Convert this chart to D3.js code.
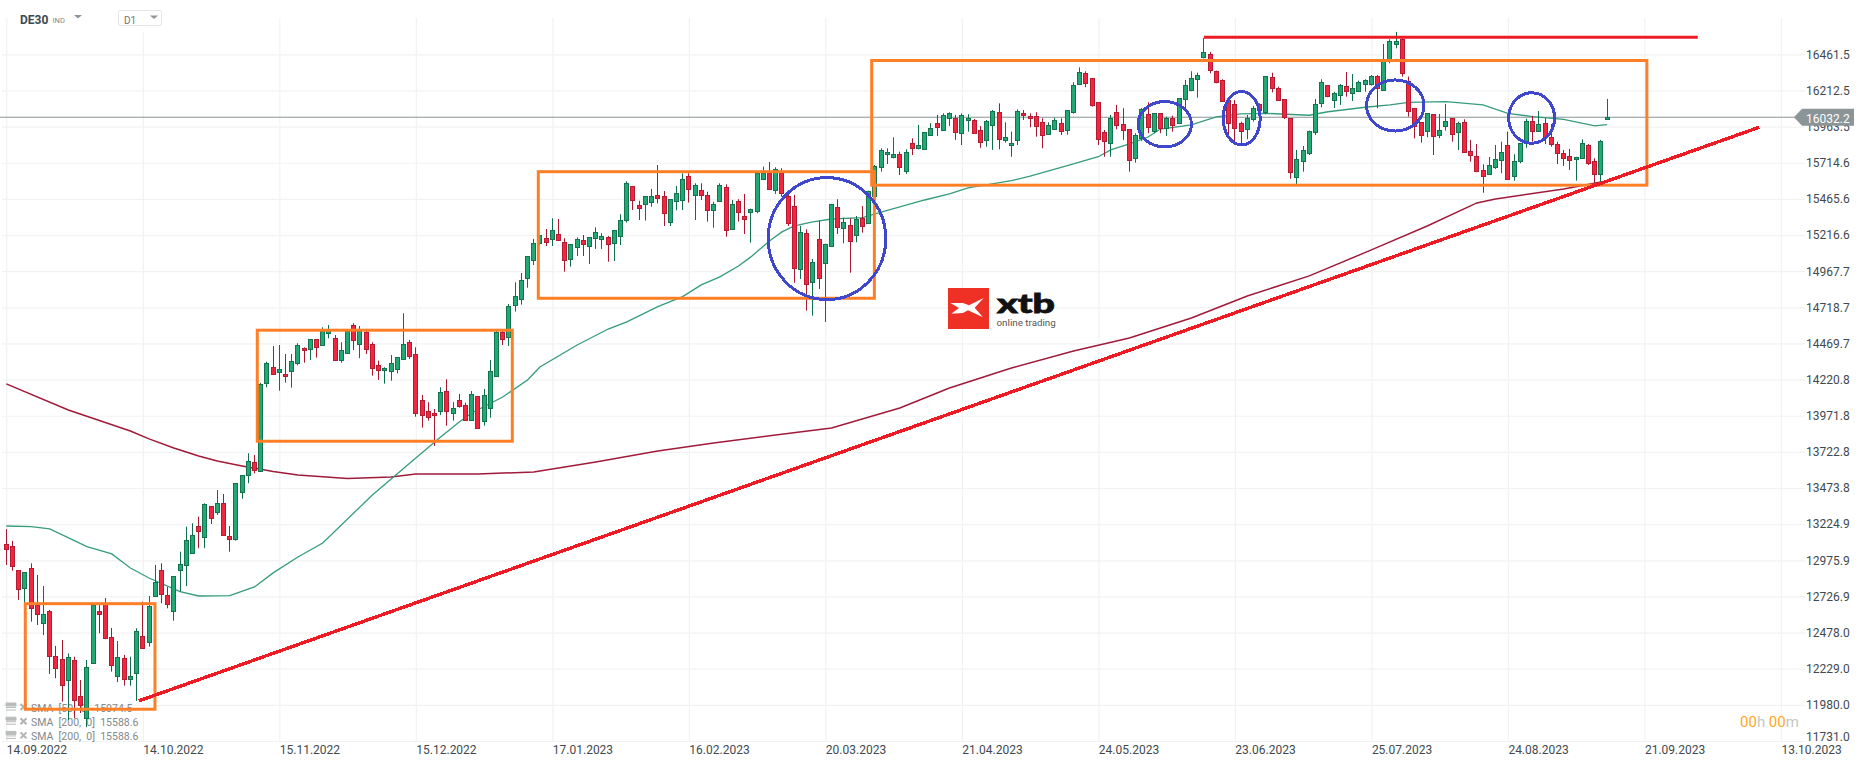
<!DOCTYPE html>
<html>
<head>
<meta charset="utf-8">
<script src="https://cdn.jsdelivr.net/npm/d3@7"></script>
<style>
  html, body { margin: 0; background: #fff; overflow: hidden; }
  text { font-family: Roboto, sans-serif; }
</style>
</head>
<body>
<div class="chart"></div>
<script>
// Daily candles DE30, 14.09.2022 onwards
const highs = [
  13190,13109,12909,12895,12955,12875,12799,12634,12386,12427,
  12335,12312,12151,12289,12682,12675,12716,12510,12420,12324,
  12312,12508,12691,12730,12944,12955,12792,12868,13035,13208,
  13231,13276,13369,13350,13460,13433,13212,13507,13562,13713,
  13702,14198,14344,14452,14459,14397,14397,14471,14443,14499,
  14499,14581,14597,14528,14478,14563,14609,14590,14563,14478,
  14351,14306,14390,14377,14678,14494,14443,14115,14065,14018,
  14168,14223,14065,14122,14062,14142,14106,14156,14356,14563,
  14563,14742,14891,14955,15072,15190,15217,15258,15332,15327,
  15194,15153,15201,15217,15201,15270,15229,15210,15252,15360,
  15587,15555,15453,15484,15534,15699,15520,15463,15555,15642,
  15642,15573,15573,15515,15446,15573,15566,15458,15463,15500,
  15398,15644,15688,15720,15683,15677,15493,15493,15279,15256,
  15052,15314,15157,15431,15463,15336,15332,15348,15417,15522,
  15699,15814,15814,15890,15791,15807,15883,15975,15925,15987,
  16044,16055,16062,16044,16055,16049,16016,15968,16009,16078,
  16124,15993,15929,16083,16078,16055,16062,16021,15993,16025,
  16021,16078,16269,16372,16345,16297,16133,15940,16044,16113,
  16090,15945,15918,16092,16131,16055,16055,16032,16039,16159,
  16285,16345,16335,16574,16478,16349,16290,16161,16147,15998,
  16044,16106,16124,16312,16335,16239,16152,16021,15803,15830,
  15936,16154,16290,16250,16204,16257,16340,16326,16280,16290,
  16319,16319,16533,16565,16616,16572,16308,16090,15993,16055,
  16049,16051,16120,16021,15998,16014,15872,15844,15704,15754,
  15837,15860,15929,15773,15849,16018,16037,16071,16021,15982,
  15860,15803,15810,15756,15876,15844,15745,15872,16154
]
const lows = [
  12944,12904,12703,12682,12553,12530,12461,12193,12163,12002,
  11876,11888,11924,11826,12268,12473,12432,12209,12136,12112,
  12112,12007,12370,12381,12723,12680,12645,12560,12760,12799,
  13020,13059,13059,13226,13288,13148,13035,13111,13400,13507,
  13575,13584,14168,14257,14144,14200,14165,14319,14337,14356,
  14372,14457,14505,14351,14337,14409,14425,14368,14397,14248,
  14218,14193,14213,14264,14356,14363,13965,13890,13938,13763,
  13977,13903,13938,14027,13938,13936,13881,13903,13958,14246,
  14459,14452,14689,14737,14854,15010,15148,15141,15141,15178,
  14964,14999,15072,15072,15017,15121,15121,15033,15038,15148,
  15302,15389,15320,15316,15412,15435,15279,15279,15387,15389,
  15440,15320,15458,15309,15267,15446,15205,15252,15309,15224,
  15164,15367,15596,15532,15500,15481,15279,14888,14914,14696,
  14661,14845,14618,15139,15224,15160,14957,15167,15233,15298,
  15486,15653,15706,15745,15630,15637,15768,15807,15807,15901,
  15899,15942,15968,15872,15837,15929,15913,15818,15825,15803,
  15807,15853,15756,15837,16009,15959,15894,15814,15908,15940,
  15906,15908,16053,16250,16235,16101,15837,15756,15756,15945,
  15872,15653,15715,15865,15918,15918,15918,15899,15929,15987,
  16090,16207,16163,16434,16331,16262,16135,15906,15860,15849,
  15876,15998,16073,16049,16200,16140,16016,15605,15568,15653,
  15768,15906,16097,16166,16092,16113,16170,16140,16202,16204,
  16246,16090,16214,16400,16503,16308,16032,15883,15853,15890,
  15768,15883,15936,15860,15803,15784,15722,15649,15508,15630,
  15672,15642,15596,15591,15711,15818,15860,15929,15844,15825,
  15706,15692,15665,15591,15741,15699,15573,15584,16009
]
const opens = [
  13088,13073,12907,12783,12921,12668,12539,12625,12317,12294,
  12147,12287,12039,11885,12271,12627,12675,12446,12184,12301,
  12154,12198,12453,12411,12732,12907,12735,12622,12911,12939,
  13022,13212,13132,13348,13304,13369,13143,13121,13445,13562,
  13651,13591,14195,14306,14271,14257,14278,14333,14437,14430,
  14499,14464,14540,14505,14354,14409,14595,14471,14549,14464,
  14319,14285,14278,14292,14361,14478,14395,14078,14003,13989,
  14000,14140,13986,14078,14044,13941,14106,13934,14020,14251,
  14551,14516,14730,14774,14916,15040,15157,15194,15187,15222,
  15167,15050,15136,15181,15136,15198,15192,15201,15157,15205,
  15316,15553,15422,15426,15446,15491,15484,15302,15446,15453,
  15621,15488,15527,15491,15391,15446,15546,15256,15449,15348,
  15378,15378,15603,15646,15522,15646,15484,15415,14981,15229,
  14891,15187,15022,15139,15408,15263,15284,15219,15332,15298,
  15488,15688,15770,15750,15773,15653,15849,15812,15807,15901,
  15987,15942,16018,16023,15915,16005,16007,15940,15869,15973,
  16062,15867,15832,15869,16055,16035,16035,15993,15911,15942,
  15987,15938,16060,16255,16331,16297,16131,15925,15849,16062,
  15980,15945,15745,15883,16053,15934,16055,15952,16021,15987,
  16152,16216,16287,16441,16462,16345,16283,16147,16117,15989,
  15949,16011,16117,16060,16303,16228,16152,16021,15612,15722,
  15784,15922,16122,16248,16145,16179,16241,16193,16204,16253,
  16253,16310,16214,16418,16533,16565,16276,16090,15993,15929,
  16049,15901,15963,16021,15922,15993,15794,15759,15663,15635,
  15681,15732,15835,15621,15722,15849,16000,15931,15987,15890,
  15842,15780,15761,15739,15745,15835,15725,15639,16018
]
const closes = [
  13056,12932,12776,12893,12645,12604,12604,12312,12232,12112,
  12308,12009,11979,12239,12668,12608,12443,12250,12312,12156,
  12177,12487,12370,12659,12829,12742,12673,12866,12949,13114,
  13148,13180,13362,13263,13369,13148,13125,13507,13562,13658,
  13598,14189,14333,14257,14292,14241,14347,14457,14420,14499,
  14443,14558,14563,14356,14423,14558,14489,14558,14434,14299,
  14285,14299,14333,14375,14464,14379,13989,13975,13965,13972,
  14133,14003,14023,14034,13941,14120,13887,14113,14278,14551,
  14503,14728,14795,14905,15070,15160,15215,15167,15249,15178,
  15040,15153,15190,15150,15201,15236,15210,15150,15249,15318,
  15573,15458,15398,15484,15484,15467,15364,15463,15504,15601,
  15529,15559,15495,15391,15429,15559,15247,15429,15371,15329,
  15398,15642,15646,15536,15670,15508,15295,14988,15236,14877,
  15029,14919,15153,15429,15267,15305,15171,15327,15274,15518,
  15692,15803,15787,15773,15681,15787,15812,15835,15925,15952,
  15956,16046,16055,15929,16042,16021,15915,15860,16000,16069,
  15876,15890,15849,16069,16039,16018,15966,15901,15973,16007,
  15929,16076,16248,16338,16262,16111,15874,15860,16021,15973,
  15938,15732,15904,16085,15963,16055,15952,16023,15970,16159,
  16248,16297,16317,16476,16349,16269,16135,15989,15949,15936,
  16023,16090,16078,16310,16225,16147,16030,15646,15739,15801,
  15936,16117,16269,16175,16193,16248,16204,16228,16269,16283,
  16310,16228,16414,16551,16551,16328,16066,15963,15901,16055,
  15897,15938,16000,15911,15987,15784,15763,15653,15621,15697,
  15739,15787,15601,15725,15849,16000,15931,15980,15890,15842,
  15777,15745,15736,15752,15849,15708,15632,15863,16032
]

// moving averages at these candles
const sma50Index = [0,4,7,13,17,20,23,28,31,36,40,43,47,51,59,66,70,73,75,80,84,86,92,97,100,105,109,112,115,118,120,123,125,127,130,133,138,140,144,148,152,155,162,165,171,176,178,181,184,186,191,195,199,203,210,213,219,223,226,232,238,242,246,251,256,258]
const sma50Value = [13212,13208,13192,13070,13020,12923,12854,12760,12730,12732,12792,12889,12999,13095,13426,13681,13825,13929,13991,14101,14218,14308,14459,14569,14618,14723,14792,14873,14928,15003,15066,15176,15238,15279,15307,15327,15336,15362,15410,15458,15500,15541,15591,15623,15694,15756,15803,15844,15892,15947,15975,16030,16051,16055,16042,16066,16097,16113,16131,16135,16113,16055,16032,16014,15968,15977]
const sma200Index = [0,10,20,23,27,31,34,38,43,47,55,62,66,76,85,95,105,114,124,133,144,152,162,172,181,191,200,210,220,229,237,240,251,257,258]
const sma200Value = [14191,14011,13867,13812,13750,13695,13660,13626,13588,13564,13540,13550,13571,13571,13584,13653,13729,13784,13839,13887,14025,14163,14301,14418,14507,14645,14797,14935,15114,15279,15438,15465,15534,15582,15589]

// axes
const priceTicks = [16461.5,16212.5,15963.5,15714.6,15465.6,15216.6,14967.7,14718.7,14469.7,14220.8,13971.8,13722.8,13473.8,13224.9,12975.9,12726.9,12478.0,12229.0,11980.0,11731.0]
const dateLabels = ['14.09.2022','14.10.2022','15.11.2022','15.12.2022','17.01.2023','16.02.2023','20.03.2023','21.04.2023','24.05.2023','23.06.2023','25.07.2023','24.08.2023','21.09.2023','13.10.2023']
const dateIndex = [0,22,44,66,88,110,132,154,176,198,220,242,264,286]
const lastPrice = 16032.2

// hand drawn annotations, in candle index / price
const zoneStart = [3.06,40.45,85.74,139.47]
const zoneEnd = [23.96,81.55,139.9,264.4]
const zoneTop = [12677,14561,15653,16419]
const zoneBottom = [11950,13796,14781,15560]
const circleIndex = [132.26,186.7,199.1,223.85,245.83]
const circlePrice = [15192,15980,16021,16109,16023]
const circleRadiusIndex = [9.48,4.3,2.98,4.63,3.7]
const circleRadiusPrice = [420,156,184,176,174]
const trendIndex = [21.34,282.5]
const trendPrice = [12007,15959]
const resistanceIndex = [193,272.6]
const resistancePrice = [16579,16579]

const legendNames = ['SMA  [50,  0]  15074.5','SMA  [200,  0]  15588.6','SMA  [200,  0]  15588.6']

const width = 1866
const height = 767

const svg = d3.select('.chart')
    .append('svg')
    .attr('width', width)
    .attr('height', height)
    .style('display', 'block')

const x = d3.scaleLinear().domain([0, 286]).range([6.3, 1780.9])
const y = d3.scaleLinear().domain([11731, 16461.5]).range([741, 54.33])

const textColor = '#3f4a50'

// grid
const gridY = svg.append('g')
    .attr('transform', 'translate(1805,0)')
    .call(d3.axisLeft(y).tickValues(priceTicks).tickSize(1803).tickFormat(''))
const gridX = svg.append('g')
    .attr('transform', 'translate(0,741)')
    .call(d3.axisTop(x).tickValues(dateIndex).tickSize(723).tickFormat(''))
svg.selectAll('.domain').remove()
gridY.selectAll('line').attr('stroke', '#f1f2f2').attr('stroke-width', 1.2)
gridX.selectAll('line').attr('stroke', '#f1f2f2').attr('stroke-width', 1.2)

// axis labels
const axisY = svg.append('g')
    .attr('transform', 'translate(1806,0)')
    .call(d3.axisRight(y).tickValues(priceTicks).tickSize(0).tickPadding(0).tickFormat(d3.format('.1f')))
axisY.select('.domain').remove()
axisY.selectAll('text')
    .attr('fill', textColor)
    .style('font-size', '12px')
    .attr('dy', d => (d === 11731 ? '-0.02em' : '0.32em'))

const axisX = svg.append('g')
    .attr('transform', 'translate(0,741)')
    .call(d3.axisBottom(x).tickValues(dateIndex).tickSize(0).tickPadding(0)
        .tickFormat((d, i) => dateLabels[i]))
axisX.select('.domain').remove()
axisX.selectAll('text')
    .attr('fill', textColor)
    .attr('y', 4)
    .attr('dy', '0.71em')
    .style('font-size', '12px')
    .style('text-anchor', 'start')

// legend sits under the candles
const legend = svg.append('g')
legendNames.forEach((name, i) => {
    const row = legend.append('g').attr('transform', `translate(0,${707.5 + i * 14.2})`)
    row.append('path')
        .attr('d', 'M6,-4.5H16V-1.5H6ZM6,0H16M6,2.5H16')
        .attr('fill', '#b9bcbd')
        .attr('stroke', '#b9bcbd')
        .attr('stroke-width', 1)
    row.append('path')
        .attr('d', 'M20.5,-3.5L26.5,2.5M26.5,-3.5L20.5,2.5')
        .attr('stroke', '#b0b3b4')
        .attr('stroke-width', 2)
    row.append('text')
        .attr('x', 31)
        .attr('y', 4)
        .attr('fill', '#83888a')
        .style('font-size', '10.5px')
        .style('white-space', 'pre')
        .attr('xml:space', 'preserve')
        .text(name)
})

// last price line
svg.append('line')
    .attr('x1', 0)
    .attr('x2', 1795)
    .attr('y1', y(lastPrice) + 0.6)
    .attr('y2', y(lastPrice) + 0.6)
    .attr('stroke', '#8b9496')
    .attr('stroke-width', 1)

// moving averages
const smaLine = d3.line().x(d => x(d[0])).y(d => y(d[1]))
svg.append('path')
    .datum(d3.zip(sma200Index, sma200Value))
    .attr('d', smaLine)
    .attr('fill', 'none')
    .attr('stroke', '#a01a3a')
    .attr('stroke-width', 1.5)
svg.append('path')
    .datum(d3.zip(sma50Index, sma50Value))
    .attr('d', smaLine)
    .attr('fill', 'none')
    .attr('stroke', '#359c7c')
    .attr('stroke-width', 1.3)

// candles
const candles = svg.append('g')
    .selectAll('g')
    .data(closes.map((c, i) => ({ i, o: opens[i], h: highs[i], l: lows[i], c })))
    .enter()
    .append('g')

const px = d => Math.floor(x(d.i)) + 0.5
const isUp = d => d.c >= d.o

candles.append('line')
    .attr('x1', px)
    .attr('x2', px)
    .attr('y1', d => y(d.h))
    .attr('y2', d => y(d.l))
    .attr('stroke', d => (isUp(d) ? '#0f6f4c' : '#aa1730'))
    .attr('stroke-width', 1)

candles.append('rect')
    .attr('x', d => px(d) - 2)
    .attr('width', 4)
    .attr('y', d => Math.round(y(Math.max(d.o, d.c))) + 0.5)
    .attr('height', d => Math.max(1, Math.round(Math.abs(y(d.o) - y(d.c)))))
    .attr('fill', d => (isUp(d) ? '#22a873' : '#f0273f'))
    .attr('stroke', d => (isUp(d) ? '#14734f' : '#b51c33'))
    .attr('stroke-width', 1)

// annotations
const zones = d3.zip(zoneStart, zoneEnd, zoneTop, zoneBottom)
svg.append('g')
    .selectAll('rect')
    .data(zones)
    .enter()
    .append('rect')
    .attr('x', d => x(d[0]))
    .attr('y', d => y(d[2]))
    .attr('width', d => x(d[1]) - x(d[0]))
    .attr('height', d => y(d[3]) - y(d[2]))
    .attr('fill', 'none')
    .attr('stroke', '#ff7f27')
    .attr('stroke-width', 3)

svg.append('g')
    .selectAll('ellipse')
    .data(d3.zip(circleIndex, circlePrice, circleRadiusIndex, circleRadiusPrice))
    .enter()
    .append('ellipse')
    .attr('cx', d => x(d[0]))
    .attr('cy', d => y(d[1]))
    .attr('rx', d => x(d[2]) - x(0))
    .attr('ry', d => y(0) - y(d[3]))
    .attr('fill', 'none')
    .attr('stroke', '#3f48cc')
    .attr('stroke-width', 3)
    .style('shape-rendering', 'crispEdges')

const straight = d3.line().x(d => x(d[0])).y(d => y(d[1]))
svg.append('path')
    .datum(d3.zip(trendIndex, trendPrice))
    .attr('d', straight)
    .attr('stroke', '#ed1c24')
    .attr('stroke-width', 3.4)
    .style('shape-rendering', 'crispEdges')
svg.append('path')
    .datum(d3.zip(resistanceIndex, resistancePrice))
    .attr('d', straight)
    .attr('stroke', '#ed1c24')
    .attr('stroke-width', 3)

// last price tag
const tagY = y(lastPrice) + 0.6
svg.append('path')
    .attr('d', `M1794,${tagY}L1802,${tagY - 8.5}H1854V${tagY + 8.5}H1802Z`)
    .attr('fill', '#8b9496')
svg.append('text')
    .attr('x', 1806)
    .attr('y', tagY + 5.5)
    .attr('fill', '#fff')
    .style('font-size', '12px')
    .text(d3.format('.1f')(lastPrice))

// countdown
const countdown = svg.append('text')
    .attr('x', 1740)
    .attr('y', 727)
    .style('font-size', '15px')
countdown.append('tspan').attr('fill', '#ffa726').text('00')
countdown.append('tspan').attr('fill', '#c4c7c8').text('h ')
countdown.append('tspan').attr('fill', '#ffa726').text('00')
countdown.append('tspan').attr('fill', '#c4c7c8').text('m')

// header
svg.append('text')
    .attr('x', 20)
    .attr('y', 23.5)
    .attr('fill', '#3c4a52')
    .style('font-size', '12px')
    .style('font-weight', 700)
    .text('DE30')
svg.append('text')
    .attr('x', 52.5)
    .attr('y', 22.5)
    .attr('fill', '#80878a')
    .style('font-size', '7.5px')
    .text('IND')
svg.append('path').attr('d', 'M74,15H82L78,18.5Z').attr('fill', '#8f9496')
svg.append('rect')
    .attr('x', 112).attr('y', 0).attr('width', 56).attr('height', 31.5)
    .attr('fill', '#fff')
svg.append('rect')
    .attr('x', 118.5).attr('y', 10.5).attr('width', 43).attr('height', 15).attr('rx', 2)
    .attr('fill', '#fff').attr('stroke', '#e4e6e7')
svg.append('text')
    .attr('x', 124)
    .attr('y', 23.5)
    .attr('fill', '#70777a')
    .style('font-size', '10px')
    .text('D1')
svg.append('path').attr('d', 'M150,15.5H158L154,19Z').attr('fill', '#8f9496')

// xtb logo
const logo = svg.append('g').attr('transform', 'translate(948,288)')
logo.append('rect').attr('width', 41).attr('height', 41).attr('fill', '#ee3124')
logo.append('path')
    .attr('transform', 'scale(0.3333) translate(-55,-55)')
    .attr('d', 'M62,100L100,100L118,107L162,85L135,114L160,143L115,122L100,130L65,132L88,115Z')
    .attr('fill', '#fff')
logo.append('text')
    .attr('x', 49)
    .attr('y', 25)
    .attr('fill', '#111')
    .attr('stroke', '#111')
    .attr('stroke-width', 0.8)
    .attr('textLength', 58)
    .attr('lengthAdjust', 'spacingAndGlyphs')
    .style('font-size', '27px')
    .style('font-weight', 900)
    .style('font-family', 'Lato, Roboto, sans-serif')
    .text('xtb')
logo.append('text')
    .attr('x', 48.5)
    .attr('y', 37.5)
    .attr('fill', '#555')
    .style('font-size', '9.8px')
    .text('online trading')
</script>
</body>
</html>
